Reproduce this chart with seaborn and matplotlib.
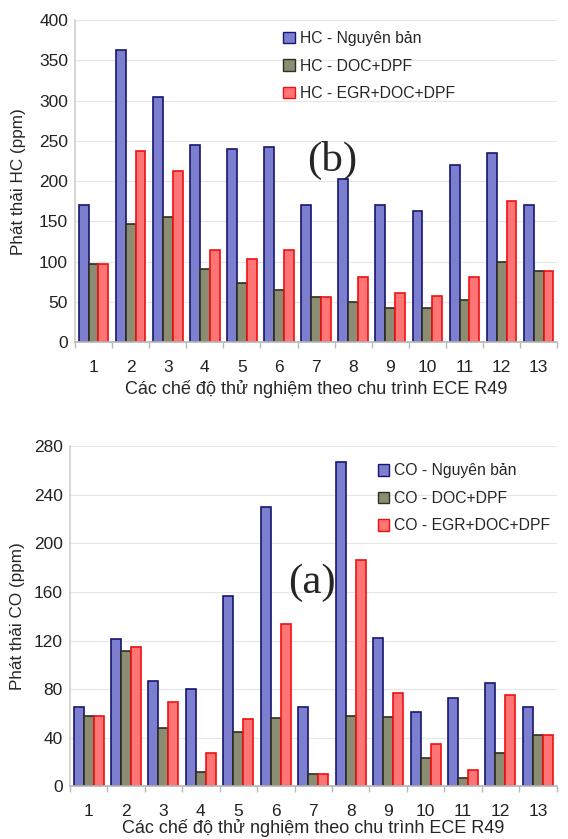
import pandas as pd
import seaborn as sns
import matplotlib.pyplot as plt
from matplotlib.ticker import MultipleLocator

modes = [str(i) for i in range(1, 14)]

# HC emissions (ppm)
hc_goc = [170, 363, 304, 245, 240, 243, 170, 203, 170, 163, 220, 235, 170]
hc_doc = [97, 147, 155, 91, 74, 65, 56, 50, 42, 43, 52, 100, 89]
hc_egr = [97, 237, 213, 115, 104, 115, 56, 81, 61, 57, 81, 176, 89]

# CO emissions (ppm)
co_goc = [65, 121, 87, 80, 157, 230, 65, 267, 122, 61, 73, 85, 65]
co_doc = [58, 111, 48, 12, 45, 56, 10, 58, 57, 23, 7, 27, 42]
co_egr = [58, 115, 69, 27, 55, 134, 10, 186, 77, 35, 13, 75, 42]

fills = ['#7c7fd0', '#8c8c72', '#ff7474']
edges = ['#16166e', '#2e2e22', '#ee1111']

sns.set_theme(style='white')
plt.rcParams['font.family'] = ['Liberation Sans', 'DejaVu Sans']

def long_df(gas, a, b, c):
    names = [gas + ' - Nguyên bản', gas + ' - DOC+DPF', gas + ' - EGR+DOC+DPF']
    rows = []
    for name, vals in zip(names, [a, b, c]):
        for m, v in zip(modes, vals):
            rows.append({'mode': m, 'series': name, 'ppm': v})
    return pd.DataFrame(rows), names

def draw(ax, df, names, ymax, ystep, ylabel, ylab_x, xlab_y, leg_anchor, tag, tag_xy):
    sns.barplot(data=df, x='mode', y='ppm', hue='series', hue_order=names,
                palette=fills, width=0.8, ax=ax, saturation=1)
    for cont, ec in zip(ax.containers, edges):
        for bar in cont:
            bar.set_edgecolor(ec)
            bar.set_linewidth(1.2)
    ax.set_ylim(0, ymax)
    ax.set_xlim(-0.48, 12.42)
    ax.yaxis.set_major_locator(MultipleLocator(ystep))
    ax.yaxis.grid(True, color='#e6e6e6', linewidth=0.8)
    ax.set_axisbelow(True)
    for s in ['top', 'right']:
        ax.spines[s].set_visible(False)
    ax.spines['left'].set_color('#d0d0d0')
    ax.spines['bottom'].set_color('#b8b8b8')
    ax.set_xticks([i + 0.5 for i in range(-1, 13)], minor=True)
    ax.tick_params(axis='x', which='major', length=0, labelsize=12.5, pad=13, colors='#222222')
    ax.tick_params(axis='x', which='minor', length=4, color='#b8b8b8', bottom=True)
    ax.tick_params(axis='y', length=0, labelsize=12.5, pad=5, colors='#222222')
    ax.set_xlabel('Các chế độ thử nghiệm theo chu trình ECE R49', fontsize=13)
    ax.xaxis.set_label_coords(0.5, xlab_y)
    ax.xaxis.label.set_va('center')
    ax.set_ylabel(ylabel, fontsize=12.3)
    ax.yaxis.set_label_coords(ylab_x, 0.5)
    ax.yaxis.label.set_va('center')
    handles, labels = ax.get_legend_handles_labels()
    for h, ec in zip(handles, edges):
        h.set_edgecolor(ec)
    ax.legend(handles, labels, loc='upper left', bbox_to_anchor=leg_anchor, frameon=False,
              fontsize=11.3, handlelength=0.75, handleheight=0.75, handletextpad=0.3,
              labelspacing=0.8, borderaxespad=0, borderpad=0)
    ax.text(tag_xy[0], tag_xy[1], tag, transform=ax.transAxes, fontsize=31,
            family=['Liberation Serif', 'DejaVu Serif'], ha='center', va='center')

fig = plt.figure(figsize=(5.68, 8.39), dpi=100)
ax1 = fig.add_axes([0.132, 0.592, 0.849, 0.384])
ax2 = fig.add_axes([0.123, 0.063, 0.857, 0.405])

df_hc, n_hc = long_df('HC', hc_goc, hc_doc, hc_egr)
draw(ax1, df_hc, n_hc, 400, 50, 'Phát thải HC (ppm)', -0.118, -0.146,
     (0.432, 0.966), '(b)', (0.533, 0.565))

df_co, n_co = long_df('CO', co_goc, co_doc, co_egr)
draw(ax2, df_co, n_co, 280, 40, 'Phát thải CO (ppm)', -0.107, -0.124,
     (0.632, 0.95), '(a)', (0.497, 0.6))

fig.savefig('out.png', dpi=100, facecolor='white')
